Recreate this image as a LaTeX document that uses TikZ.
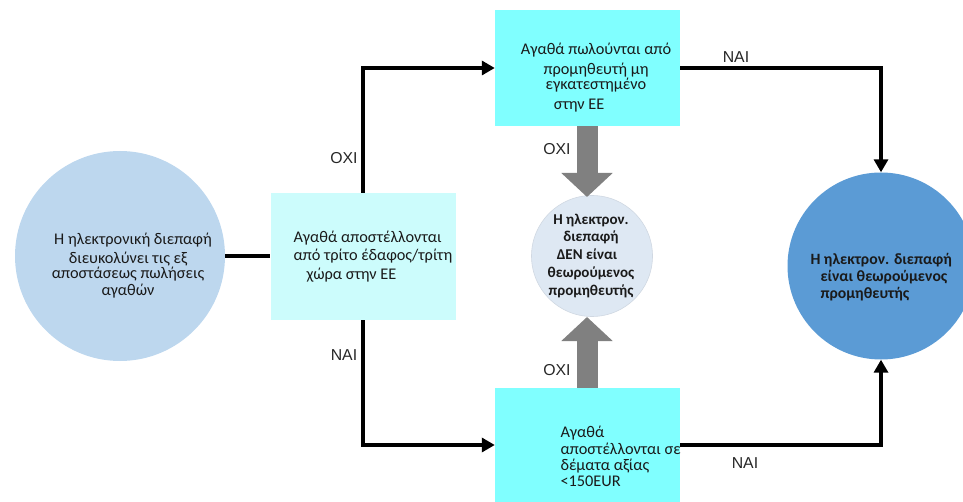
\documentclass[tikz,border=0pt]{standalone}
\usepackage{fontspec}
\setmainfont{Carlito}
\newfontfamily\lblfont{Liberation Sans}
\usetikzlibrary{arrows.meta}
\definecolor{lcirc}{HTML}{BDD7EE}
\definecolor{lbox}{HTML}{CCFCFC}
\definecolor{cbox}{HTML}{80FFFF}
\definecolor{mcirc}{HTML}{DEE8F3}
\definecolor{rcirc}{HTML}{5B9BD5}
\definecolor{garrow}{HTML}{808080}
\definecolor{txt}{HTML}{1A1A1A}
\tikzset{
  every node/.style={text=txt, font=\fontsize{16.3}{17}\selectfont},
  boxnode/.style={rectangle, inner sep=0pt},
  conn/.style={line width=3.6pt, draw=black},
  arr/.style={conn, -{Triangle[length=13pt,width=14pt]}},
  garr/.style={line width=21pt, draw=garrow, -{Triangle[length=24pt,width=50pt]}},
  lbl/.style={inner sep=0pt, font=\lblfont\fontsize{15.8}{17}\selectfont, text=black!85}
}
\begin{document}
\begin{tikzpicture}[x=1pt,y=-1pt]
\useasboundingbox (0,0) rectangle (963,502);
% left circle
\node[circle, fill=lcirc, minimum size=210pt, inner sep=0pt] (lc) at (120,256) {};
\node[align=center] (lct) at (128,266) {\hspace*{10pt}Η ηλεκτρονική διεπαφή\\[2pt] διευκολύνει τις εξ\\[-2pt] αποστάσεως πωλήσεις\\[0pt] αγαθών};
% left-middle box
\node[boxnode, fill=lbox, minimum width=185pt, minimum height=127pt] (mb) at (363,256.5) {};
\node[align=left, anchor=west] (mbt) at (290,256.5) {Αγαθά αποστέλλονται\\[1.5pt] από τρίτο έδαφος/τρίτη\\[1.5pt] \hspace*{13pt}χώρα στην ΕΕ};
% top box
\node[boxnode, fill=cbox, minimum width=185pt, minimum height=116pt] (tb) at (587.5,68) {};
\node[align=center] (tbt) at (596,78) {Αγαθά πωλούνται από\\[3pt] προμηθευτή μη\\[-2pt] εγκατεστημένο\\[3pt] \hspace*{-34pt}στην ΕΕ};
% bottom box
\node[boxnode, fill=cbox, minimum width=185pt, minimum height=114pt] (bb) at (587.5,445) {};
\node[align=left, anchor=west] (bbt) at (557,456) {Αγαθά\\[0pt] αποστέλλονται σε\\[-1pt] δέματα αξίας\\[-1pt] <150EUR};
% middle circle
\node[circle, fill=mcirc, draw=mcirc!85!gray, line width=0.6pt, minimum size=121pt, inner sep=0pt] (mc) at (592,256) {};
\node[align=center, font=\bfseries\fontsize{15}{17.5}\selectfont] (mct) at (591,256) {Η ηλεκτρον.\\ διεπαφή\\ \hspace*{-8pt}ΔΕΝ είναι\\[1pt] θεωρούμενος\\ προμηθευτής};
% right circle
\node[circle, fill=rcirc, minimum size=187pt, inner sep=0pt] (rc) at (881,266) {};
\node[align=left, anchor=west, font=\bfseries\fontsize{15.7}{17}\selectfont] (rct) at (807,277) {Η ηλεκτρον. διεπαφή\\ \hspace*{10pt}είναι θεωρούμενος\\ \hspace*{10pt}προμηθευτής};
% connectors
\draw[conn] (lc.east) -- (mb.west |- lc.east);
\draw[arr] (mb.north) |- (tb.west);
\draw[arr] (mb.south) |- (bb.west);
\draw[arr] (tb.east) -| (rc.north);
\draw[arr] (bb.east) -| (rc.south);
\coordinate (mcn) at (587,197);
\coordinate (mcs) at (587,317);
\draw[garr] (tb.south -| mcn) -- (mcn);
\draw[garr] (bb.north -| mcs) -- (mcs);
% labels
\node[lbl] (l1) at (344,158) {ΟΧΙ};
\node[lbl] (l2) at (344,355) {ΝΑΙ};
\node[lbl] (l3) at (557,149) {ΟΧΙ};
\node[lbl] (l4) at (557,370) {ΟΧΙ};
\node[lbl] (l5) at (736,57) {ΝΑΙ};
\node[lbl] (l6) at (745,463) {ΝΑΙ};
\end{tikzpicture}
\end{document}
